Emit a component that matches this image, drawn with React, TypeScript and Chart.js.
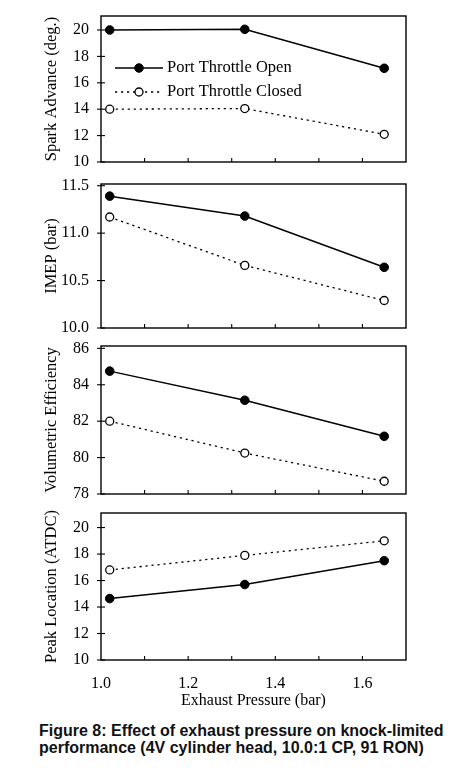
import { useEffect, useRef } from "react";
import { Chart, registerables } from "chart.js";

Chart.register(...registerables);

const SERIF = "'Liberation Serif', 'Times New Roman', serif";
Chart.defaults.font.family = SERIF;
Chart.defaults.color = "#000";

// ---------------- data ----------------
const pressure = [1.02, 1.33, 1.65];
const seriesLabels = ["Port Throttle Open", "Port Throttle Closed"];

const sparkOpen = [20.0, 20.05, 17.1];
const sparkClosed = [14.0, 14.05, 12.1];
const imepOpen = [11.39, 11.18, 10.64];
const imepClosed = [11.17, 10.66, 10.29];
const veOpen = [84.75, 83.15, 81.17];
const veClosed = [82.0, 80.25, 78.7];
const peakOpen = [14.64, 15.7, 17.5];
const peakClosed = [16.8, 17.9, 19.0];

const xTickValues = [1.0, 1.2, 1.4, 1.6];
const xMinorTicks = [1.1, 1.2, 1.3, 1.4, 1.5, 1.6];
const sparkTicks = [10, 12, 14, 16, 18, 20];
const imepTicks = [10.0, 10.5, 11.0, 11.5];
const veTicks = [78, 80, 82, 84, 86];
const peakTicks = [10, 12, 14, 16, 18, 20];

const framePlugin = {
  id: "frame",
  beforeDatasetsDraw(chart: any) {
    const { ctx, chartArea: a, scales } = chart;
    ctx.save();
    ctx.strokeStyle = "#000";
    ctx.lineWidth = 1.4;
    ctx.strokeRect(a.left, a.top, a.right - a.left, a.bottom - a.top);
    ctx.lineWidth = 1.1;
    const y = scales.y;
    y.ticks.forEach((t: any) => {
      const py = y.getPixelForValue(t.value);
      ctx.beginPath();
      ctx.moveTo(a.left - 4, py);
      ctx.lineTo(a.left + 4, py);
      ctx.stroke();
    });
    const x = scales.x;
    xMinorTicks.forEach((v) => {
      const px = x.getPixelForValue(v);
      ctx.beginPath();
      ctx.moveTo(px, a.bottom);
      ctx.lineTo(px, a.bottom - 4);
      ctx.stroke();
    });
    ctx.restore();
  },
};

const legendPlugin = {
  id: "inlineLegend",
  afterDatasetsDraw(chart: any, _args: any, opts: any) {
    if (!opts || !opts.show) return;
    const { ctx, chartArea: a } = chart;
    chart.data.datasets.forEach((ds: any, i: number) => {
      const y = a.top + opts.top + i * opts.rowGap;
      const x0 = a.left + opts.left;
      const x1 = x0 + opts.lineLength;
      ctx.save();
      ctx.strokeStyle = ds.borderColor;
      ctx.lineWidth = ds.borderWidth;
      ctx.setLineDash(ds.borderDash || []);
      ctx.beginPath();
      ctx.moveTo(x0, y);
      ctx.lineTo(x1, y);
      ctx.stroke();
      ctx.setLineDash([]);
      ctx.beginPath();
      ctx.arc((x0 + x1) / 2, y, ds.pointRadius, 0, Math.PI * 2);
      ctx.fillStyle = ds.pointBackgroundColor;
      ctx.fill();
      ctx.lineWidth = ds.pointBorderWidth;
      ctx.strokeStyle = ds.pointBorderColor;
      ctx.stroke();
      ctx.fillStyle = "#000";
      ctx.font = `16.5px ${SERIF}`;
      ctx.textBaseline = "middle";
      ctx.textAlign = "left";
      ctx.fillText(ds.label, x1 + 4, y);
      ctx.restore();
    });
  },
};

type PanelProps = {
  top: number;
  height: number;
  padTop: number;
  padBottom: number;
  yTitle: string;
  yMin: number;
  yMax: number;
  yTicks: number[];
  yDecimals: number;
  open: number[];
  closed: number[];
  showLegend?: boolean;
  showX?: boolean;
};

function Panel(p: PanelProps) {
  const ref = useRef<HTMLCanvasElement | null>(null);
  useEffect(() => {
    if (!ref.current) return;
    const chart = new Chart(ref.current, {
      type: "scatter",
      data: {
        datasets: [
          {
            label: seriesLabels[0],
            data: pressure.map((x, i) => ({ x, y: p.open[i] })),
            showLine: true,
            borderColor: "#000",
            borderWidth: 1.5,
            pointRadius: 4.3,
            pointHoverRadius: 4.3,
            pointBackgroundColor: "#000",
            pointBorderColor: "#000",
            pointBorderWidth: 1,
          },
          {
            label: seriesLabels[1],
            data: pressure.map((x, i) => ({ x, y: p.closed[i] })),
            showLine: true,
            borderColor: "#000",
            borderWidth: 1.3,
            borderDash: [2.2, 3.8],
            pointRadius: 4,
            pointHoverRadius: 4,
            pointBackgroundColor: "#fff",
            pointBorderColor: "#000",
            pointBorderWidth: 1.3,
          },
        ] as any,
      },
      options: {
        animation: false,
        responsive: false,
        events: [],
        layout: { padding: { left: 0, right: 47, top: p.padTop, bottom: p.padBottom } },
        plugins: {
          legend: { display: false },
          tooltip: { enabled: false },
          inlineLegend: { show: !!p.showLegend, left: 14, lineLength: 48, top: 52, rowGap: 24 },
        } as any,
        scales: {
          x: {
            type: "linear",
            min: 1.0,
            max: 1.7,
            display: !!p.showX,
            afterBuildTicks: (s: any) => {
              s.ticks = xTickValues.map((v) => ({ value: v }));
            },
            afterFit: (s: any) => {
              if (p.showX) s.height = 50;
              s.paddingLeft = 0;
              s.paddingRight = 0;
            },
            ticks: {
              callback: (v: any) => Number(v).toFixed(1),
              font: { size: 16, family: SERIF },
              color: "#000",
              padding: 14,
              maxRotation: 0,
              autoSkip: false,
            },
            grid: { display: false, drawTicks: false },
            border: { display: false },
            title: {
              display: true,
              text: "Exhaust Pressure (bar)",
              font: { size: 16, family: SERIF },
              color: "#000",
              padding: { top: 0, bottom: 0 },
            },
          },
          y: {
            type: "linear",
            min: p.yMin,
            max: p.yMax,
            afterBuildTicks: (s: any) => {
              s.ticks = p.yTicks.map((v) => ({ value: v }));
            },
            afterFit: (s: any) => {
              s.width = 101;
              s.paddingTop = 0;
              s.paddingBottom = 0;
            },
            ticks: {
              callback: (v: any) => Number(v).toFixed(p.yDecimals),
              font: { size: 16, family: SERIF },
              color: "#000",
              padding: 12,
            },
            grid: { display: false, drawTicks: false },
            border: { display: false },
            title: {
              display: true,
              text: p.yTitle,
              font: { size: 16.5, family: SERIF },
              color: "#000",
              padding: { top: 42, bottom: 0 },
            },
          },
        } as any,
      },
      plugins: [framePlugin, legendPlugin],
    });
    return () => chart.destroy();
  }, []);
  return (
    <div style={{ position: "absolute", left: 0, top: p.top, width: 453, height: p.height }}>
      <canvas ref={ref} width={453} height={p.height} style={{ display: "block" }} />
    </div>
  );
}

export default function App() {
  return (
    <div
      style={{
        position: "absolute",
        left: 0,
        top: 0,
        width: 453,
        height: 771,
        background: "#fff",
        overflow: "hidden",
      }}
    >
      <Panel
        top={0}
        height={172}
        padTop={16}
        padBottom={10}
        yTitle="Spark Advance (deg.)"
        yMin={10}
        yMax={21.06}
        yTicks={sparkTicks}
        yDecimals={0}
        open={sparkOpen}
        closed={sparkClosed}
        showLegend
      />
      <Panel
        top={172}
        height={166}
        padTop={12}
        padBottom={10}
        yTitle="IMEP (bar)"
        yMin={10}
        yMax={11.518}
        yTicks={imepTicks}
        yDecimals={1}
        open={imepOpen}
        closed={imepClosed}
      />
      <Panel
        top={338}
        height={166}
        padTop={8}
        padBottom={10}
        yTitle="Volumetric Efficiency"
        yMin={78}
        yMax={86.13}
        yTicks={veTicks}
        yDecimals={0}
        open={veOpen}
        closed={veClosed}
      />
      <Panel
        top={504}
        height={206}
        padTop={9}
        padBottom={0}
        yTitle="Peak Location (ATDC)"
        yMin={10}
        yMax={21.1}
        yTicks={peakTicks}
        yDecimals={0}
        open={peakOpen}
        closed={peakClosed}
        showX
      />
      <div
        style={{
          position: "absolute",
          left: 39,
          top: 722,
          width: 420,
          fontFamily: "'Liberation Sans', Arial, sans-serif",
          fontWeight: "bold",
          fontSize: 16,
          lineHeight: "17px",
          color: "#111",
          whiteSpace: "nowrap",
        }}
      >
        Figure 8: Effect of exhaust pressure on knock-limited
        <br />
        performance (4V cylinder head, 10.0:1 CP, 91 RON)
      </div>
    </div>
  );
}
